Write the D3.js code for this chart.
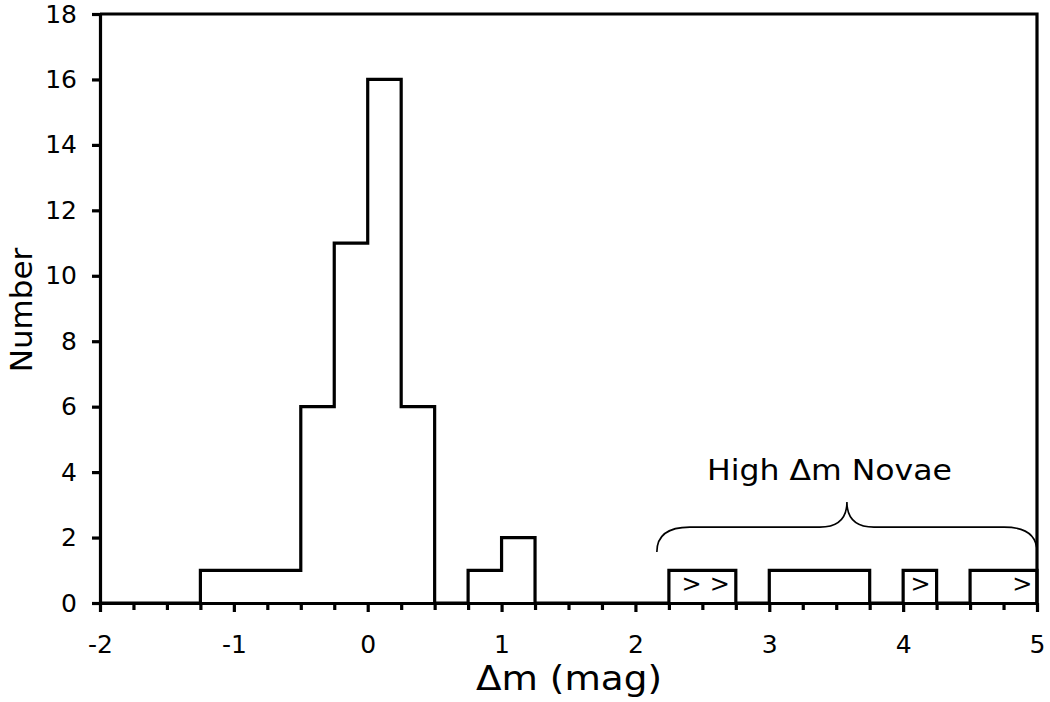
<!DOCTYPE html>
<html>
<head>
  <meta charset="utf-8">
  <title>dm histogram</title>
  <script src="https://d3js.org/d3.v7.min.js"></script>
  <style>
    body { margin: 0; background: #fff; }
    text { font-family: "DejaVu Sans", Verdana, sans-serif; fill: #000; }
  </style>
</head>
<body>
  <svg width="1050" height="702" id="mainsvg"></svg>
  <script>
    // bin left edges (width 0.25 mag) and counts
    const binLefts = [-2, -1.75, -1.5, -1.25, -1, -0.75, -0.5, -0.25, 0, 0.25, 0.5, 0.75, 1, 1.25,
                      1.5, 1.75, 2, 2.25, 2.5, 2.75, 3, 3.25, 3.5, 3.75, 4, 4.25, 4.5, 4.75];
    const counts   = [0, 0, 0, 1, 1, 1, 6, 11, 16, 6, 0, 1, 2, 0,
                      0, 0, 0, 1, 1, 0, 1, 1, 1, 0, 1, 0, 1, 1];
    const binWidth = 0.25;
    const xTicks = [-2, -1, 0, 1, 2, 3, 4, 5];
    const yTicks = [0, 2, 4, 6, 8, 10, 12, 14, 16, 18];
    // lower-limit markers ">" (x position in mag)
    const limitX = [2.42, 2.63, 4.13, 4.89];
    // brace around the high-dm novae: ends, tip, and heights (data units)
    const braceX = [2.16, 5.0];
    const braceTip = 3.58;
    const braceY = [1.56, 2.32, 3.09];

    const svg = d3.select('#mainsvg');
    const margin = { left: 100, right: 13, top: 14, bottom: 99 };
    const W = 1050, H = 702;
    const FONT = '"DejaVu Sans", Verdana, sans-serif';

    const x = d3.scaleLinear().domain([-2, 5]).range([margin.left, W - margin.right]);
    const y = d3.scaleLinear().domain([0, 18]).range([H - margin.bottom, margin.top]);

    // histogram outline (step line)
    let pts = [[binLefts[0], 0]];
    binLefts.forEach((b, i) => {
      pts.push([b, counts[i]]);
      pts.push([b + binWidth, counts[i]]);
    });
    pts.push([binLefts[binLefts.length - 1] + binWidth, 0]);

    svg.append('path')
      .attr('d', d3.line().x(d => x(d[0])).y(d => y(d[1]))(pts))
      .attr('fill', 'none')
      .attr('stroke', '#000')
      .attr('stroke-width', 3.2);

    // frame top/right
    svg.append('path')
      .attr('d', `M${x(-2)},${y(18)}H${x(5)}V${y(0)}`)
      .attr('fill', 'none')
      .attr('stroke', '#000')
      .attr('stroke-width', 3.2);

    // minor x ticks
    const minorTicks = binLefts.concat([5]).filter(v => !xTicks.includes(v));
    svg.append('g')
      .attr('transform', `translate(0,${y(0)})`)
      .call(d3.axisBottom(x).tickValues(minorTicks).tickSize(7).tickFormat(''))
      .call(g => g.select('.domain').remove())
      .call(g => g.selectAll('line').attr('stroke-width', 3.2));

    // x axis
    const gx = svg.append('g')
      .attr('transform', `translate(0,${y(0)})`)
      .call(d3.axisBottom(x).tickValues(xTicks).tickSize(9).tickSizeOuter(0).tickPadding(23).tickFormat(d => String(d)));
    gx.select('.domain').attr('stroke-width', 3.2);
    gx.selectAll('line').attr('stroke-width', 3.2);
    gx.selectAll('text').attr('font-size', 25).attr('font-family', FONT);

    // y axis
    const gy = svg.append('g')
      .attr('transform', `translate(${x(-2)},0)`)
      .call(d3.axisLeft(y).tickValues(yTicks).tickSize(8).tickSizeOuter(0).tickPadding(15));
    gy.select('.domain').attr('stroke-width', 3.2);
    gy.selectAll('line').attr('stroke-width', 3.2);
    gy.selectAll('text').attr('font-size', 25).attr('font-family', FONT);

    // axis titles
    svg.append('text')
      .attr('x', 476).attr('y', 690)
      .attr('font-size', 33)
      .attr('textLength', 186)
      .attr('lengthAdjust', 'spacingAndGlyphs')
      .text('\u0394m (mag)');

    svg.append('text')
      .attr('transform', 'translate(32,310) rotate(-90)')
      .attr('text-anchor', 'middle')
      .attr('font-size', 31)
      .text('Number');

    // lower-limit markers
    svg.selectAll('.lim').data(limitX).enter().append('text')
      .attr('class', 'lim')
      .attr('x', d => x(d))
      .attr('y', y(0.58))
      .attr('dy', '0.33em')
      .attr('text-anchor', 'middle')
      .attr('font-size', 24)
      .text('>');

    // brace
    const bx0 = x(braceX[0]), bx1 = x(braceX[1]), bt = x(braceTip);
    const yE = y(braceY[0]), yF = y(braceY[1]), yT = y(braceY[2]);
    const rE = 33, rM = 27;
    svg.append('path')
      .attr('d', `M${bx0},${yE} Q${bx0},${yF} ${bx0 + rE},${yF} L${bt - rM},${yF} Q${bt},${yF} ${bt},${yT}` +
                 ` Q${bt},${yF} ${bt + rM},${yF} L${bx1 - rE},${yF} Q${bx1},${yF} ${bx1},${yE}`)
      .attr('fill', 'none')
      .attr('stroke', '#000')
      .attr('stroke-width', 1.6);

    svg.append('text')
      .attr('x', 707).attr('y', 480)
      .attr('font-size', 28)
      .attr('textLength', 245)
      .attr('lengthAdjust', 'spacingAndGlyphs')
      .text('High \u0394m Novae');
  </script>
</body>
</html>
